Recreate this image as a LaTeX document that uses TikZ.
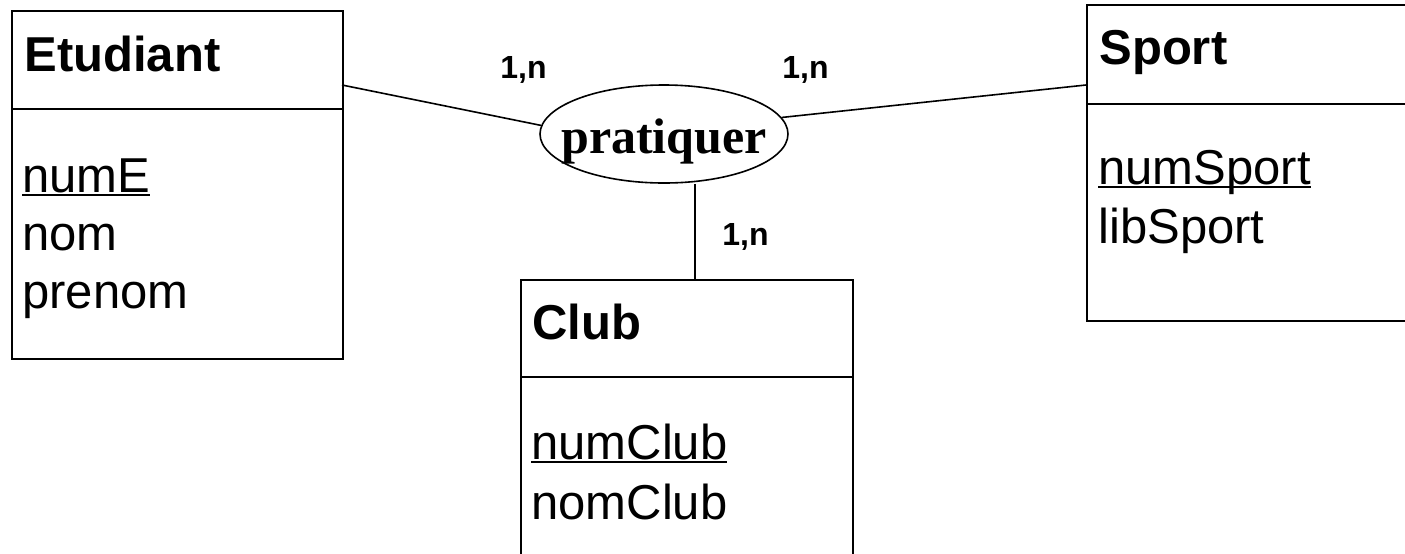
\documentclass[tikz,border=0pt]{standalone}
\usepackage{fontspec}
\setmainfont{Liberation Sans}
\newfontfamily\relfont{Liberation Serif}
\usetikzlibrary{shapes.geometric}

\newcommand\keyattr[1]{\setbox0\hbox{#1}\rlap{\rule[-2pt]{\wd0}{1pt}}\box0}

\begin{document}
\begin{tikzpicture}[x=0.5pt, y=-0.5pt,
    every node/.style={inner sep=0pt, font=\fontsize{24.5}{29}\selectfont},
    entity/.style={draw, line width=0.9pt, anchor=north west},
    title/.style={anchor=base west, font=\fontsize{24.5}{29}\selectfont\bfseries},
    attr/.style={anchor=base west},
    card/.style={anchor=base west, font=\fontsize{16}{19}\selectfont\bfseries},
    link/.style={line width=0.8pt}]
      \useasboundingbox (0,0) rectangle (1405,553);
      \clip (0,0) rectangle (1405,553);
      % Etudiant box
      \node[entity, minimum width=165.5pt, minimum height=174pt] (etud) at (11,10) {};
      \draw[line width=0.9pt] (11,109) -- (342,109);
      \node[title] (etudtitle) at (24,71) {Etudiant};
      \node[attr] (etudnum) at (22,192) {\keyattr{numE}};
      \node[attr] (etudnom) at (22,250) {nom};
      \node[attr] (etudprenom) at (22,308) {prenom};
      % Sport box (runs off the right edge)
      \node[entity, minimum width=167pt, minimum height=158pt] (sport) at (1086,4) {};
      \draw[line width=0.9pt] (1086,104) -- (1420,104);
      \node[title] (sporttitle) at (1099,64) {Sport};
      \node[attr] (sportnum) at (1098,184) {\keyattr{numSport}};
      \node[attr] (sportlib) at (1098,243) {libSport};
      % Club box (runs off the bottom edge)
      \node[entity, minimum width=166pt, minimum height=145.5pt] (club) at (520,279) {};
      \draw[line width=0.9pt] (520,377) -- (852,377);
      \node[title] (clubtitle) at (532,339) {Club};
      \node[attr] (clubnum) at (531,459) {\keyattr{numClub}};
      \node[attr] (clubnom) at (531,519) {nomClub};
      % association
      \node[ellipse, draw, line width=0.8pt, minimum width=124pt, minimum height=49pt] (rel) at (664,134) {};
      \node[anchor=base, font=\relfont\bfseries\fontsize{25}{30}\selectfont] (reltext) at (664,153) {pratiquer};
      % links
      \coordinate (etudlink) at (342,85);
      \coordinate (sportlink) at (1086,85);
      \coordinate (clublink) at (695,279);
      \draw[link] (etudlink) -- (rel.176);
      \draw[link] (rel.8) -- (sportlink);
      \draw[link] (rel.south -| clublink) -- (clublink);
      % cardinalities
      \node[card] (cardetud) at (500,78) {1,n};
      \node[card] (cardsport) at (782,78) {1,n};
      \node[card] (cardclub) at (722,245) {1,n};
\end{tikzpicture}
\end{document}
